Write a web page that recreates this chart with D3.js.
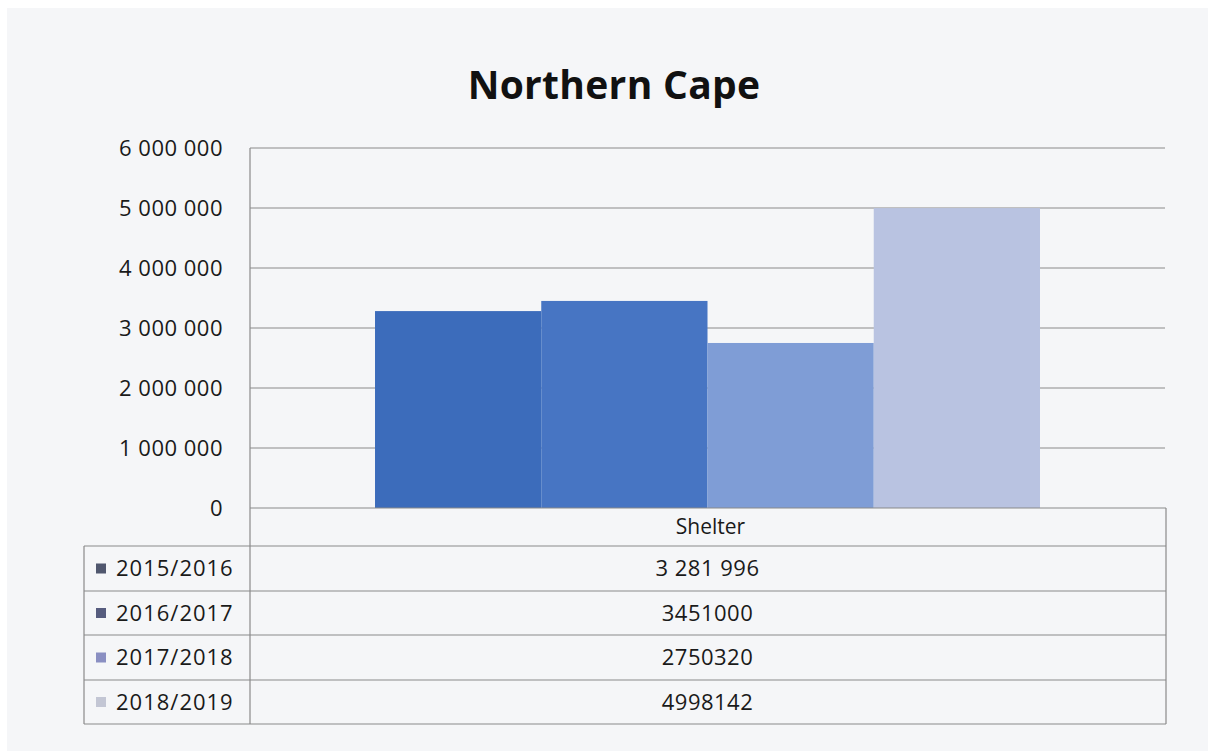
<!DOCTYPE html>
<html lang="en">
<head>
<meta charset="UTF-8">
<title>Northern Cape</title>
<script src="https://d3js.org/d3.v7.min.js"></script>
<style>
    html, body {
        margin: 0;
        padding: 0;
        background: #fff;
    }
    svg text {
        font-family: 'Open Sans', 'Noto Sans', sans-serif;
        fill: #1a1a1a;
    }
</style>
</head>
<body>
<div id="chart"></div>
<script>

// data
var categories = ["Shelter"];
var years = ["2015/2016", "2016/2017", "2017/2018", "2018/2019"];
var shelterValues = [3281996, 3451000, 2750320, 4998142];
var valueLabels = ["3 281 996", "3451000", "2750320", "4998142"];
var yTicks = [0, 1000000, 2000000, 3000000, 4000000, 5000000, 6000000];

var barColors = ["#3c6cbb", "#4775c3", "#7f9dd6", "#b9c3e1"];
var keyColors = ["#50576e", "#565c7e", "#8a8fc2", "#c3c6d4"];

var W = 1208, H = 751;
var plot = {left: 250, right: 1165, top: 148, bottom: 508};
var rowH = [38, 45, 44, 45, 44];   // header row + 4 legend rows
var keyLeft = 84;

var svg = d3.select('#chart')
    .append('svg')
    .attr('width', W)
    .attr('height', H);

svg.append('rect')
    .attr('x', 7).attr('y', 8)
    .attr('width', W - 7).attr('height', H - 8)
    .attr('fill', '#f5f6f8');

svg.append('text')
    .attr('x', 614)
    .attr('y', 99)
    .attr('text-anchor', 'middle')
    .style('font-size', '39px')
    .style('font-weight', 'bold')
    .style('letter-spacing', '0.3px')
    .style('fill', '#111')
    .text('Northern Cape');

var y_scale = d3.scaleLinear()
    .domain([0, 6000000])
    .range([plot.bottom, plot.top]);

var x_scale = d3.scaleBand()
    .domain(categories)
    .range([plot.left, plot.right]);

var x_inner = d3.scaleBand()
    .domain(years)
    .range([0, x_scale.bandwidth()])
    .paddingInner(0)
    .paddingOuter(0.752);

// gridlines
svg.append('g')
    .selectAll('line')
    .data(yTicks.slice(1))
    .enter()
    .append('line')
    .attr('x1', plot.left)
    .attr('x2', plot.right)
    .attr('y1', function(d) { return y_scale(d); })
    .attr('y2', function(d) { return y_scale(d); })
    .attr('stroke', '#8a8a8a')
    .attr('stroke-width', 1);

// y axis labels
var y_axis = d3.axisLeft(y_scale)
    .tickValues(yTicks)
    .tickSize(0)
    .tickPadding(0)
    .tickFormat(function(d) { return d3.format(',')(d).replace(/,/g, ' '); });

var gy = svg.append('g')
    .attr('transform', 'translate(223,0)')
    .call(y_axis);
gy.select('.domain').remove();
gy.selectAll('text')
    .style('font-size', '22px')
    .style('letter-spacing', '0.5px')
    .style('fill', '#1a1a1a')
    .attr('dy', '0.35em');

// bars
svg.append('g')
    .selectAll('rect')
    .data(shelterValues)
    .enter()
    .append('rect')
    .attr('x', function(d, i) { return x_scale(categories[0]) + x_inner(years[i]); })
    .attr('y', function(d) { return y_scale(d); })
    .attr('width', x_inner.bandwidth())
    .attr('height', function(d) { return y_scale(0) - y_scale(d); })
    .attr('fill', function(d, i) { return barColors[i]; });

// data table
var rowTops = [plot.bottom];
rowH.forEach(function(h, i) { rowTops.push(rowTops[i] + h); });
var tableBottom = rowTops[rowTops.length - 1];

var table = svg.append('g')
    .attr('stroke', '#8a8a8a')
    .attr('stroke-width', 1.2);

table.append('line')
    .attr('x1', plot.left).attr('x2', plot.left)
    .attr('y1', plot.top).attr('y2', tableBottom);
table.append('line')
    .attr('x1', plot.right + 1).attr('x2', plot.right + 1)
    .attr('y1', plot.bottom).attr('y2', tableBottom);
table.append('line')
    .attr('x1', keyLeft).attr('x2', keyLeft)
    .attr('y1', rowTops[1]).attr('y2', tableBottom);
table.append('line')
    .attr('x1', plot.left).attr('x2', plot.right + 1)
    .attr('y1', plot.bottom).attr('y2', plot.bottom);
table.selectAll('.rowline')
    .data(rowTops.slice(1))
    .enter()
    .append('line')
    .attr('class', 'rowline')
    .attr('x1', keyLeft).attr('x2', plot.right + 1)
    .attr('y1', function(d) { return d; })
    .attr('y2', function(d) { return d; });

var midX = x_scale(categories[0]) + x_scale.bandwidth() / 2;

svg.append('text')
    .attr('x', midX + 3)
    .attr('y', (rowTops[0] + rowTops[1]) / 2)
    .attr('dy', '0.35em')
    .attr('text-anchor', 'middle')
    .style('font-size', '21px')
    .text(categories[0]);

var rows = svg.append('g')
    .selectAll('g')
    .data(years)
    .enter()
    .append('g')
    .attr('transform', function(d, i) {
        return 'translate(0,' + (rowTops[i + 1] + rowTops[i + 2]) / 2 + ')';
    });

rows.append('rect')
    .attr('x', 96).attr('y', -5)
    .attr('width', 10).attr('height', 10)
    .attr('fill', function(d, i) { return keyColors[i]; });

rows.append('text')
    .attr('x', 116)
    .attr('dy', '0.35em')
    .style('font-size', '22px')
    .style('letter-spacing', '1px')
    .text(function(d) { return d; });

rows.append('text')
    .attr('x', midX)
    .attr('dy', '0.35em')
    .attr('text-anchor', 'middle')
    .style('font-size', '22px')
    .style('letter-spacing', '0.5px')
    .text(function(d, i) { return valueLabels[i]; });

</script>
</body>
</html>
